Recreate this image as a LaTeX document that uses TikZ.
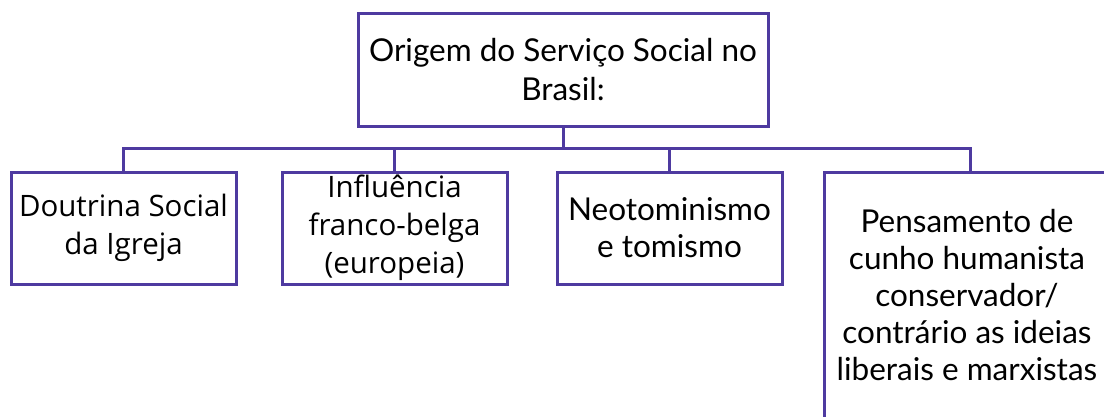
\documentclass[tikz,border=0pt]{standalone}
\usepackage{fontspec}
\setmainfont{Lato}
\newfontfamily\avfont{Lato}
\newfontfamily\sgfont{Open Sans}
\definecolor{edge}{RGB}{78,58,160}
\tikzset{
  box/.style={draw=edge, line width=3pt, rectangle, align=center, inner sep=0pt, fill=white},
  link/.style={draw=edge, line width=3pt},
  titlefont/.style={font={\avfont\fontsize{31.5}{39}\selectfont}},
  sgtext/.style={font={\sgfont\fontsize{29.5}{38}\selectfont}},
  avtext/.style={font={\avfont\fontsize{31.5}{37}\selectfont}}
}
\begin{document}
\begin{tikzpicture}[x=1pt,y=-1pt]
\useasboundingbox (0,0) rectangle (1104,416);
\clip (0,0) rectangle (1104,416);
\fill[white] (0,0) rectangle (1104,416);
\node[box, titlefont, minimum width=410pt, minimum height=113pt] (top) at (563,69.5) {Origem do Serviço Social no\\Brasil:};
\node[box, sgtext, minimum width=225pt, minimum height=112pt] (b1) at (123.5,228) {Doutrina Social\\da Igreja};
\node[box, sgtext, minimum width=225pt, minimum height=112pt] (b2) at (394.5,228) {Influência\\franco-belga\\(europeia)};
\node[box, avtext, minimum width=225pt, minimum height=112pt] (b3) at (669.5,228) {Neotominismo\\e tomismo};
\node[box, avtext, minimum width=286pt, minimum height=246pt] (b4) at (967,295) {Pensamento de\\cunho humanista\\conservador/\\contrário as ideias\\liberais e marxistas};
\coordinate (bus) at (563,148);
\coordinate (d4) at (970,148);
\coordinate (e4) at (970,172);
\draw[link] (top.south) -- (bus);
\draw[link] (b1.north) |- (d4) -- (e4);
\draw[link] (b2.north) -- (b2.north |- bus);
\draw[link] (b3.north) -- (b3.north |- bus);
\end{tikzpicture}
\end{document}
